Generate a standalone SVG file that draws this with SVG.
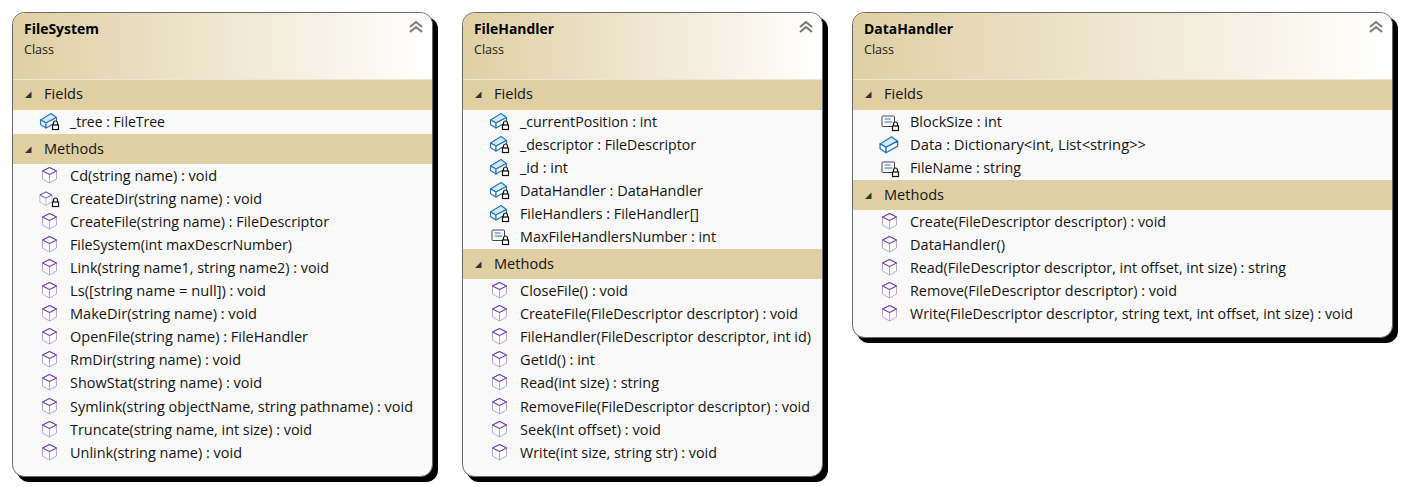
<svg xmlns="http://www.w3.org/2000/svg" width="1404" height="487" viewBox="0 0 1404 487">
<style>
text{font-family:"Open Sans","Noto Sans","Liberation Sans",sans-serif;font-size:14px;fill:#141414}
.t{font-weight:700;fill:#000}
.c{font-size:12.5px;fill:#222}
.shadow{fill:#000}
.body{fill:#f9f9f9;stroke:#6a6a6a;stroke-width:1}
.band{fill:#e0cfa3}
.sep{fill:#eee6d2}
.tri{fill:#333}
.cube{fill:#fff;stroke:#b9a3dc;stroke-width:1;stroke-linejoin:round}
.cube2{fill:none;stroke:#6f42b0;stroke-width:1.100;stroke-linejoin:round}
.fld{fill:#fff;stroke:#1f74c4;stroke-width:1.100;stroke-linejoin:round}
.fld2{fill:#d6e8f7;stroke:#1f74c4;stroke-width:1.100;stroke-linejoin:round}
.prop{fill:#fff;stroke:#444;stroke-width:1}
.lock{fill:#fff;stroke:#111;stroke-width:1.200}
.chev{fill:none;stroke:#777;stroke-width:2}
</style>
<defs>
<linearGradient id="hdr" x1="0" x2="1" y1="0" y2="0"><stop offset="0" stop-color="#dfcfa3"/><stop offset="1" stop-color="#ffffff"/></linearGradient>
<g id="m"><path class="cube" d="M.5-7.500 7.500-4V4L.5 8-6.500 4V-4Z"/><path class="cube" d="M.5-.5V8"/><path class="cube2" d="M-6.500-4 .5-7.500 7.500-4 .5-.5Z"/></g>
<g id="lk"><path class="lock" d="M-2-.5V-2.500A2 2 0 0 1 2-2.500V-.5" fill="none"/><rect class="lock" x="-3" y="-.5" width="6" height="4.500"/></g>
<g id="f"><path class="fld2" d="M-9.500-1 1-7.500 6.500-3.500-4 2Z"/><path class="fld" d="M-9.500-1-4 2V7L-9.500 3.500Z"/><path class="fld" d="M-4 2 6.500-3.500V1L-4 7Z"/></g>
<g id="fl"><use href="#f"/><use href="#lk" x="5.500" y="4.500"/></g>
<g id="ml"><use href="#m" transform="translate(-4.500 .5) scale(.87)"/><use href="#lk" x="5.500" y="4.500"/></g>
<g id="p"><rect class="prop" x="-8" y="-6" width="12.500" height="10.500" rx="1"/><path d="M-5.500-3H.5M-5.500 0H2.500" fill="none" stroke="#1f74c4"/><use href="#lk" x="5.500" y="4.500"/></g>
<path id="tr" class="tri" d="M0 0 6.500-6.500V0Z"/>
<g id="ch"><path class="chev" d="M-6-3 0-8 6-3M-6 2 0-3 6 2"/></g>
</defs>
<g id="connectors"/>

<g id="FileSystem">
<rect class="shadow" x="17" y="17" width="421" height="465" rx="12"/>
<rect class="body" x="12.500" y="12.500" width="420" height="464" rx="12"/>
<path fill="url(#hdr)" d="M13 79V25A12 12 0 0 1 25 13H420A12 12 0 0 1 432 25V79Z"/>
<rect class="sep" x="13" y="79" width="419" height="2"/>
<rect class="band" x="13" y="80" width="419" height="30"/>
<rect class="band" x="13" y="134" width="419" height="30"/>
<use href="#ch" x="416" y="30"/>
<text class="t" x="24" y="34" textLength="75" lengthAdjust="spacingAndGlyphs">FileSystem</text>
<text class="c" x="24" y="54" textLength="30" lengthAdjust="spacingAndGlyphs">Class</text>
<use href="#tr" x="25" y="98"/><text x="44" y="99" textLength="39" lengthAdjust="spacingAndGlyphs">Fields</text>
<use href="#tr" x="25" y="153"/><text x="44" y="154" textLength="60" lengthAdjust="spacingAndGlyphs">Methods</text>
<use href="#fl" x="50" y="121"/><text x="70" y="127" textLength="95" lengthAdjust="spacingAndGlyphs">_tree : FileTree</text>
<use href="#m" x="49" y="175"/><text x="70" y="181" textLength="147" lengthAdjust="spacingAndGlyphs">Cd(string name) : void</text>
<use href="#ml" x="50" y="198"/><text x="70" y="204" textLength="192" lengthAdjust="spacingAndGlyphs">CreateDir(string name) : void</text>
<use href="#m" x="49" y="221"/><text x="70" y="227" textLength="259" lengthAdjust="spacingAndGlyphs">CreateFile(string name) : FileDescriptor</text>
<use href="#m" x="49" y="244"/><text x="70" y="250" textLength="222" lengthAdjust="spacingAndGlyphs">FileSystem(int maxDescrNumber)</text>
<use href="#m" x="49" y="267"/><text x="70" y="273" textLength="259" lengthAdjust="spacingAndGlyphs">Link(string name1, string name2) : void</text>
<use href="#m" x="49" y="290"/><text x="70" y="296" textLength="196" lengthAdjust="spacingAndGlyphs">Ls([string name = null]) : void</text>
<use href="#m" x="49" y="313"/><text x="70" y="319" textLength="187" lengthAdjust="spacingAndGlyphs">MakeDir(string name) : void</text>
<use href="#m" x="49" y="336"/><text x="70" y="342" textLength="238" lengthAdjust="spacingAndGlyphs">OpenFile(string name) : FileHandler</text>
<use href="#m" x="49" y="359"/><text x="70" y="365" textLength="171" lengthAdjust="spacingAndGlyphs">RmDir(string name) : void</text>
<use href="#m" x="49" y="382"/><text x="70" y="388" textLength="192" lengthAdjust="spacingAndGlyphs">ShowStat(string name) : void</text>
<use href="#m" x="49" y="406"/><text x="70" y="412" textLength="343" lengthAdjust="spacingAndGlyphs">Symlink(string objectName, string pathname) : void</text>
<use href="#m" x="49" y="429"/><text x="70" y="435" textLength="242" lengthAdjust="spacingAndGlyphs">Truncate(string name, int size) : void</text>
<use href="#m" x="49" y="452"/><text x="70" y="458" textLength="172" lengthAdjust="spacingAndGlyphs">Unlink(string name) : void</text>
</g>

<g id="FileHandler">
<rect class="shadow" x="467" y="17" width="361" height="465" rx="12"/>
<rect class="body" x="462.500" y="12.500" width="360" height="464" rx="12"/>
<path fill="url(#hdr)" d="M463 79V25A12 12 0 0 1 475 13H810A12 12 0 0 1 822 25V79Z"/>
<rect class="sep" x="463" y="79" width="359" height="2"/>
<rect class="band" x="463" y="80" width="359" height="30"/>
<rect class="band" x="463" y="249" width="359" height="30"/>
<use href="#ch" x="806" y="30"/>
<text class="t" x="474" y="34" textLength="80" lengthAdjust="spacingAndGlyphs">FileHandler</text>
<text class="c" x="474" y="54" textLength="30" lengthAdjust="spacingAndGlyphs">Class</text>
<use href="#tr" x="475" y="98"/><text x="494" y="99" textLength="39" lengthAdjust="spacingAndGlyphs">Fields</text>
<use href="#tr" x="475" y="268"/><text x="494" y="269" textLength="60" lengthAdjust="spacingAndGlyphs">Methods</text>
<use href="#fl" x="500" y="121"/><text x="520" y="127" textLength="137" lengthAdjust="spacingAndGlyphs">_currentPosition : int</text>
<use href="#fl" x="500" y="144"/><text x="520" y="150" textLength="176" lengthAdjust="spacingAndGlyphs">_descriptor : FileDescriptor</text>
<use href="#fl" x="500" y="167"/><text x="520" y="173" textLength="48" lengthAdjust="spacingAndGlyphs">_id : int</text>
<use href="#fl" x="500" y="190"/><text x="520" y="196" textLength="183" lengthAdjust="spacingAndGlyphs">DataHandler : DataHandler</text>
<use href="#fl" x="500" y="213"/><text x="520" y="219" textLength="179" lengthAdjust="spacingAndGlyphs">FileHandlers : FileHandler[]</text>
<use href="#p" x="500" y="236"/><text x="520" y="242" textLength="196" lengthAdjust="spacingAndGlyphs">MaxFileHandlersNumber : int</text>
<use href="#m" x="499" y="290"/><text x="520" y="296" textLength="108" lengthAdjust="spacingAndGlyphs">CloseFile() : void</text>
<use href="#m" x="499" y="313"/><text x="520" y="319" textLength="278" lengthAdjust="spacingAndGlyphs">CreateFile(FileDescriptor descriptor) : void</text>
<use href="#m" x="499" y="336"/><text x="520" y="342" textLength="291" lengthAdjust="spacingAndGlyphs">FileHandler(FileDescriptor descriptor, int id)</text>
<use href="#m" x="499" y="359"/><text x="520" y="365" textLength="75" lengthAdjust="spacingAndGlyphs">GetId() : int</text>
<use href="#m" x="499" y="382"/><text x="520" y="388" textLength="139" lengthAdjust="spacingAndGlyphs">Read(int size) : string</text>
<use href="#m" x="499" y="406"/><text x="520" y="412" textLength="290" lengthAdjust="spacingAndGlyphs">RemoveFile(FileDescriptor descriptor) : void</text>
<use href="#m" x="499" y="429"/><text x="520" y="435" textLength="141" lengthAdjust="spacingAndGlyphs">Seek(int offset) : void</text>
<use href="#m" x="499" y="452"/><text x="520" y="458" textLength="197" lengthAdjust="spacingAndGlyphs">Write(int size, string str) : void</text>
</g>

<g id="DataHandler">
<rect class="shadow" x="857" y="17" width="541" height="326" rx="12"/>
<rect class="body" x="852.500" y="12.500" width="540" height="325" rx="12"/>
<path fill="url(#hdr)" d="M853 79V25A12 12 0 0 1 865 13H1380A12 12 0 0 1 1392 25V79Z"/>
<rect class="sep" x="853" y="79" width="539" height="2"/>
<rect class="band" x="853" y="80" width="539" height="30"/>
<rect class="band" x="853" y="180" width="539" height="30"/>
<use href="#ch" x="1376" y="30"/>
<text class="t" x="864" y="34" textLength="89" lengthAdjust="spacingAndGlyphs">DataHandler</text>
<text class="c" x="864" y="54" textLength="30" lengthAdjust="spacingAndGlyphs">Class</text>
<use href="#tr" x="865" y="98"/><text x="884" y="99" textLength="39" lengthAdjust="spacingAndGlyphs">Fields</text>
<use href="#tr" x="865" y="199"/><text x="884" y="200" textLength="60" lengthAdjust="spacingAndGlyphs">Methods</text>
<use href="#p" x="890" y="122"/><text x="910" y="127" textLength="92" lengthAdjust="spacingAndGlyphs">BlockSize : int</text>
<use href="#f" transform="translate(890.500 145) scale(1.100)"/><text x="910" y="150" textLength="236" lengthAdjust="spacingAndGlyphs">Data : Dictionary&lt;int, List&lt;string&gt;&gt;</text>
<use href="#p" x="890" y="168"/><text x="910" y="173" textLength="111" lengthAdjust="spacingAndGlyphs">FileName : string</text>
<use href="#m" x="889" y="221"/><text x="910" y="227" textLength="256" lengthAdjust="spacingAndGlyphs">Create(FileDescriptor descriptor) : void</text>
<use href="#m" x="889" y="244"/><text x="910" y="250" textLength="95" lengthAdjust="spacingAndGlyphs">DataHandler()</text>
<use href="#m" x="889" y="267"/><text x="910" y="273" textLength="376" lengthAdjust="spacingAndGlyphs">Read(FileDescriptor descriptor, int offset, int size) : string</text>
<use href="#m" x="889" y="290"/><text x="910" y="296" textLength="267" lengthAdjust="spacingAndGlyphs">Remove(FileDescriptor descriptor) : void</text>
<use href="#m" x="889" y="313"/><text x="910" y="319" textLength="443" lengthAdjust="spacingAndGlyphs">Write(FileDescriptor descriptor, string text, int offset, int size) : void</text>
</g>
</svg>
